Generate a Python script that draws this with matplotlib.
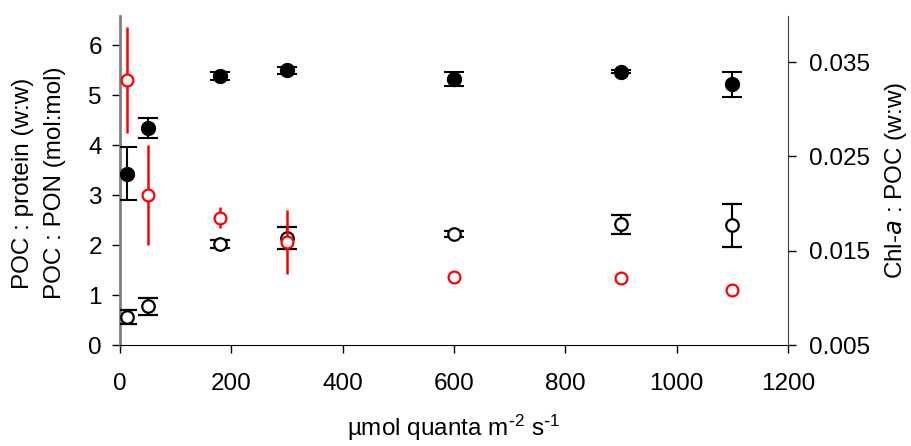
import numpy as np
import matplotlib.pyplot as plt

plt.rcParams['font.family'] = ['Liberation Sans', 'DejaVu Sans']
plt.rcParams['mathtext.default'] = 'regular'

# irradiance (umol quanta m-2 s-1)
luz = [12, 50, 180, 300, 600, 900, 1100]

# POC : PON (mol:mol) - filled
poc_pon = [3.43, 4.35, 5.38, 5.50, 5.33, 5.47, 5.22]
poc_pon_err = [0.53, 0.20, 0.08, 0.07, 0.14, 0.03, 0.25]

# POC : protein (w:w) - open black
poc_prot = [0.56, 0.78, 2.02, 2.14, 2.22, 2.42, 2.40]
poc_prot_err = [0.14, 0.17, 0.08, 0.22, 0.06, 0.19, 0.43]

# Chl-a : POC (w:w) - open red, right axis
chl_poc = [0.0331, 0.0209, 0.0185, 0.0159, 0.01225, 0.0121, 0.0108]
chl_poc_err = [0.0056, 0.0053, 0.0011, 0.0034, 0.0, 0.0, 0.0]

fs = 17.5

fig = plt.figure(figsize=(9.11, 4.46), dpi=100)
ax = fig.add_axes([120/911, 1-345/446, 668/911, 329/446])
ax2 = ax.twinx()

ax.errorbar(luz, poc_prot, yerr=poc_prot_err, fmt='o', color='black', mfc='white',
            mec='black', ms=9, mew=1.6, elinewidth=1.5, capsize=7, capthick=1.5, zorder=3)
ax.errorbar(luz, poc_pon, yerr=poc_pon_err, fmt='o', color='black', mfc='black',
            mec='black', ms=10, elinewidth=1.5, capsize=7, capthick=1.5, zorder=3)
ax2.errorbar(luz, chl_poc, yerr=chl_poc_err, fmt='o', color='red', mfc='white',
             mec='red', ms=8.5, mew=1.6, elinewidth=1.8, capsize=0, zorder=3)

ax.set_xlim(0, 1200)
ax.set_ylim(0, 6.58)
ax2.set_ylim(0.005, 0.0399)
ax.set_xticks(np.arange(0, 1201, 200))
ax.set_yticks(np.arange(0, 7, 1))
ax2.set_yticks([0.005, 0.015, 0.025, 0.035])
ax2.set_yticklabels(['0.005', '0.015', '0.025', '0.035'])

for a in (ax, ax2):
    a.spines['top'].set_visible(False)
    a.tick_params(labelsize=fs, length=6, width=1, direction='out')
ax.spines['left'].set_color('#808080')
ax.spines['left'].set_linewidth(2)
ax2.spines['left'].set_visible(False)
ax.spines['right'].set_visible(False)
ax2.spines['right'].set_color('#404040')
ax2.spines['bottom'].set_visible(False)
ax.tick_params(axis='x', pad=14)
ax.tick_params(axis='y', pad=7)
ax2.tick_params(axis='y', pad=9)

ax.set_xlabel(r'µmol quanta m$^{\text{-}2}$ s$^{\text{-}1}$', fontsize=fs, labelpad=13)
fig.text(23/911, 1-183/446, 'POC : protein (w:w)', rotation=90, fontsize=fs,
         ha='center', va='center')
fig.text(55/911, 1-183/446, 'POC : PON (mol:mol)', rotation=90, fontsize=fs,
         ha='center', va='center')
fig.text(896/911, 1-180/446, r'Chl-$\mathit{a}$ : POC (w:w)', rotation=90, fontsize=fs,
         ha='center', va='center')

fig.savefig('out.png', dpi=100)
